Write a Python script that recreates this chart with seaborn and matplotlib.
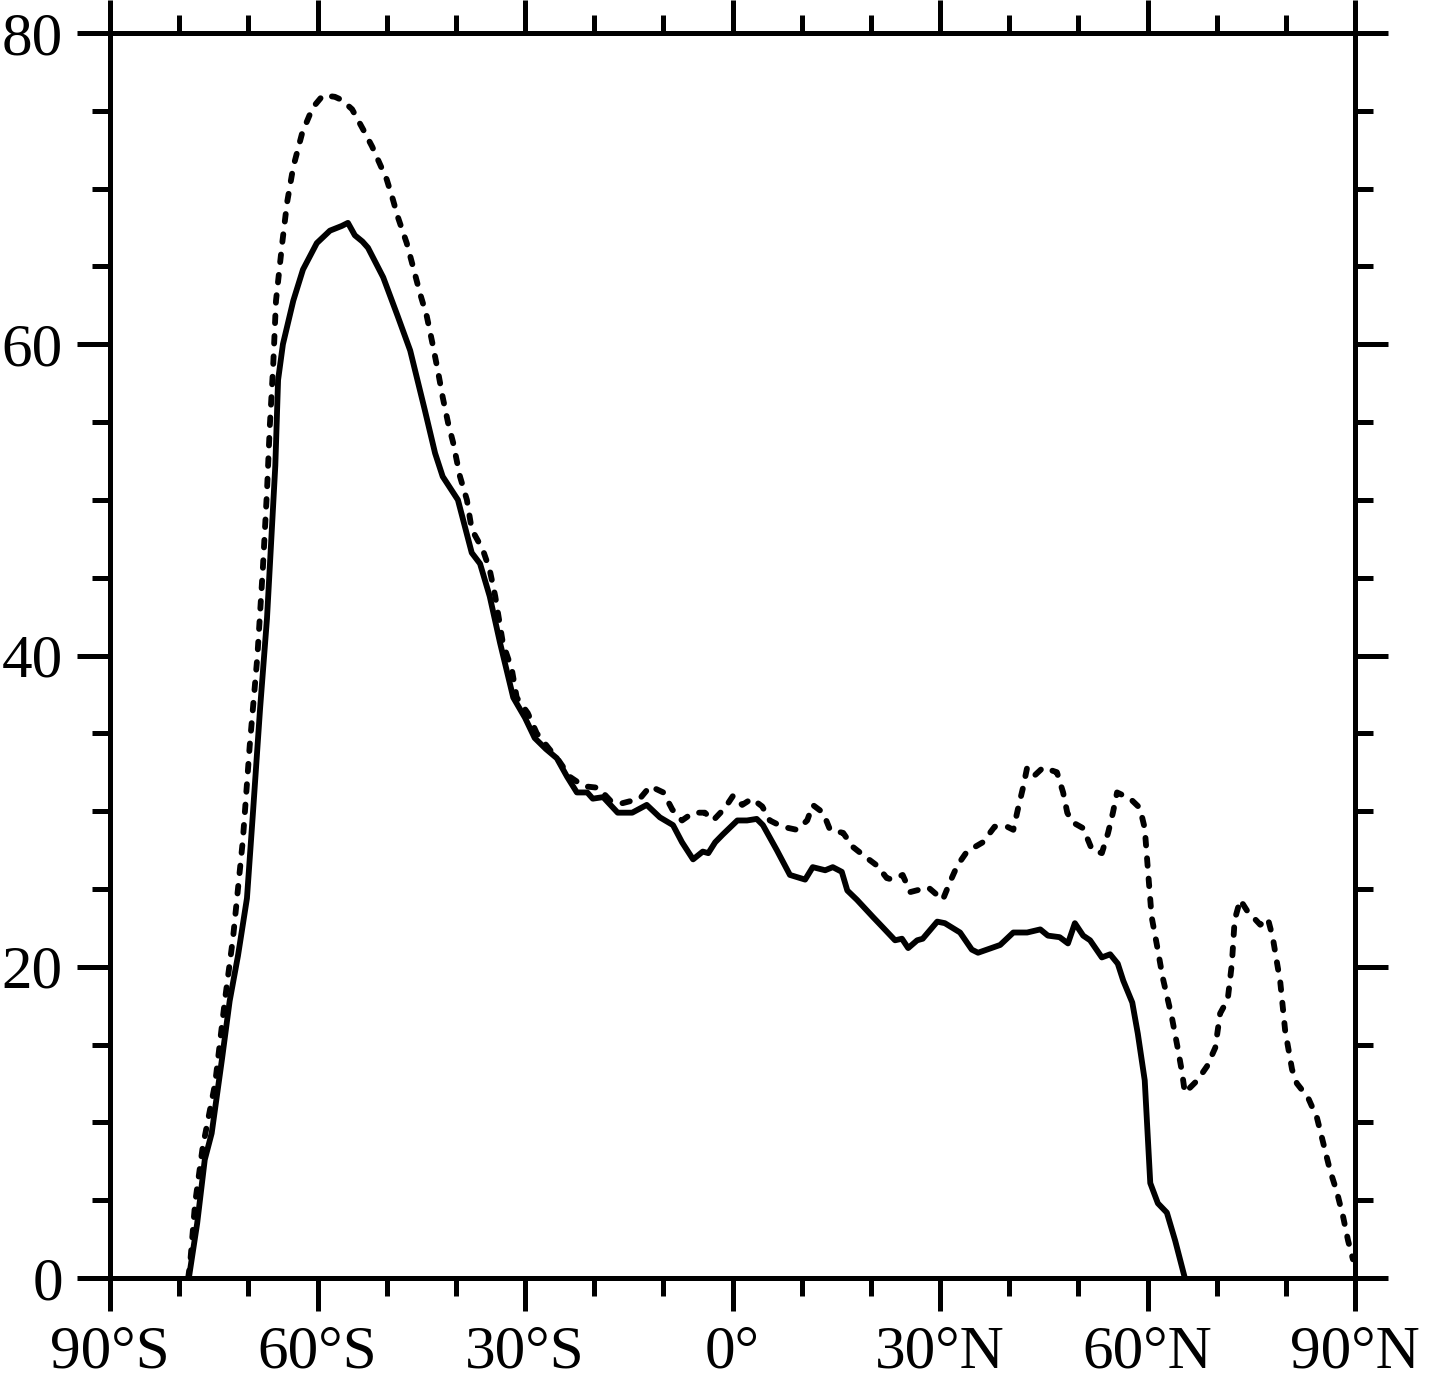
import numpy as np
import pandas as pd
import matplotlib
matplotlib.use("Agg")
import matplotlib.pyplot as plt
from matplotlib.ticker import MultipleLocator
import seaborn as sns

# solid curve
lat_solid = [-78.6, -77.4, -76.3, -75.3, -73.8, -72.7, -71.5, -70.2, -69.3, -68.3,
             -67.3, -66.1, -65.7, -65.0, -63.5, -62.1, -60.1, -58.2, -56.5, -55.6,
             -54.6, -53.5, -52.7, -50.5, -48.4, -46.6, -44.5, -43.0, -41.9, -39.7,
             -37.7, -36.5, -35.1, -33.6, -31.7, -30.0, -28.6, -27.0, -25.4, -23.9,
             -22.5, -21.0, -20.2, -18.7, -16.6, -14.5, -12.4, -10.5, -8.6, -7.3,
             -5.7, -4.3, -3.5, -2.5, -1.4, 0.7, 2.1, 3.5, 4.4, 6.4,
             8.3, 10.5, 11.6, 13.4, 14.5, 15.8, 16.6, 18.0, 20.3, 21.8,
             23.5, 24.5, 25.4, 26.7, 27.5, 29.6, 30.7, 32.9, 34.6, 35.5,
             38.7, 40.6, 42.6, 44.5, 45.6, 47.3, 48.5, 49.5, 50.7, 51.7,
             53.4, 54.6, 55.7, 56.5, 57.8, 58.6, 59.6, 60.4, 61.5, 62.8,
             64.0, 65.4]
val_solid = [0.0, 3.5, 7.6, 9.3, 14.1, 17.8, 20.7, 24.4, 30.1, 36.6,
             42.4, 52.2, 57.7, 60.0, 62.8, 64.8, 66.5, 67.3, 67.6, 67.8,
             67.0, 66.6, 66.2, 64.3, 61.8, 59.6, 55.8, 53.0, 51.5, 50.0,
             46.6, 45.9, 43.8, 40.8, 37.3, 36.0, 34.7, 34.0, 33.4, 32.2,
             31.2, 31.2, 30.8, 30.9, 29.9, 29.9, 30.4, 29.6, 29.1, 28.0,
             26.9, 27.4, 27.3, 28.0, 28.5, 29.4, 29.4, 29.5, 29.1, 27.5,
             25.9, 25.6, 26.4, 26.2, 26.4, 26.1, 24.9, 24.3, 23.2, 22.5,
             21.7, 21.8, 21.2, 21.7, 21.8, 22.9, 22.8, 22.2, 21.1, 20.9,
             21.4, 22.2, 22.2, 22.4, 22.0, 21.9, 21.5, 22.8, 22.0, 21.7,
             20.6, 20.8, 20.2, 19.1, 17.7, 15.7, 12.7, 6.1, 4.8, 4.2,
             2.4, 0.0]

# dashed curve
lat_dash = [-78.7, -78.4, -77.7, -76.6, -74.8, -73.4, -72.2, -70.8, -69.8, -68.7,
            -67.9, -67.3, -66.9, -66.4, -66.0, -65.1, -64.4, -63.5, -62.2, -60.7,
            -59.2, -57.5, -56.5, -55.0, -53.4, -52.1, -51.0, -50.0, -49.1, -48.4,
            -47.1, -46.2, -45.2, -44.2, -43.4, -42.6, -41.9, -41.1, -40.4, -39.4,
            -38.4, -37.7, -36.1, -35.1, -34.3, -33.2, -31.9, -31.2, -29.6, -28.3,
            -26.5, -25.2, -23.5, -21.5, -19.4, -17.5, -16.0, -13.4, -11.9, -10.0,
            -8.7, -7.3, -5.7, -4.0, -2.8, -1.1, 0.1, 1.4, 2.8, 4.3,
            5.4, 7.2, 9.3, 10.8, 11.6, 13.1, 14.1, 16.0, 17.4, 19.4,
            20.9, 22.3, 23.1, 24.6, 25.7, 28.3, 30.4, 31.4, 32.5, 33.9,
            36.2, 37.9, 39.7, 40.6, 41.3, 42.0, 42.6, 43.7, 44.9, 46.9,
            47.8, 48.4, 49.1, 50.7, 52.0, 53.4, 54.3, 55.0, 55.6, 57.5,
            58.9, 59.6, 60.1, 60.6, 61.4, 62.2, 63.5, 64.4, 65.0, 65.4,
            67.2, 68.6, 69.8, 70.5, 71.6, 72.2, 72.6, 73.4, 74.4, 76.3,
            77.4, 78.1, 79.2, 79.9, 80.9, 81.6, 83.2, 84.5, 85.4, 86.4,
            87.4, 88.3, 89.0, 89.7]
val_dash = [0.0, 1.0, 4.8, 8.4, 12.5, 17.8, 21.9, 28.1, 34.2, 39.9,
            45.6, 50.6, 54.7, 58.7, 62.8, 66.5, 69.1, 71.4, 73.6, 75.2,
            76.0, 75.9, 75.7, 75.1, 73.8, 72.7, 71.6, 70.6, 69.3, 68.2,
            66.5, 65.0, 63.3, 61.8, 60.1, 58.3, 56.6, 54.9, 53.7, 51.5,
            50.0, 48.1, 46.8, 45.5, 43.8, 40.8, 39.1, 37.3, 36.3, 35.0,
            34.0, 33.3, 32.2, 31.6, 31.5, 30.6, 30.5, 30.8, 31.6, 31.2,
            30.1, 29.4, 29.9, 29.9, 29.4, 30.2, 31.0, 30.4, 30.8, 30.3,
            29.4, 29.0, 28.8, 29.4, 30.4, 29.9, 28.8, 28.6, 27.7, 27.0,
            26.5, 25.7, 25.6, 25.9, 24.8, 25.1, 24.3, 25.4, 26.5, 27.4,
            28.0, 29.0, 29.0, 28.8, 30.2, 31.5, 32.8, 32.3, 32.8, 32.5,
            31.2, 29.9, 29.3, 28.9, 27.5, 27.3, 28.6, 29.9, 31.2, 30.8,
            30.2, 28.9, 26.0, 23.2, 21.3, 19.3, 16.8, 14.7, 13.2, 11.9,
            12.7, 13.6, 14.8, 17.0, 17.9, 20.2, 23.0, 24.3, 23.6, 22.7,
            23.1, 21.9, 19.0, 15.9, 13.4, 12.5, 11.6, 10.3, 8.7, 6.9,
            5.5, 3.9, 2.4, 1.2]

xtick_pos = [-90, -60, -30, 0, 30, 60, 90]
xtick_labels = ["90°S", "60°S", "30°S", "0°", "30°N", "60°N", "90°N"]
ytick_pos = [0, 20, 40, 60, 80]

sns.set_style("ticks")
plt.rcParams['font.family'] = ['Liberation Serif', 'DejaVu Serif']

df_solid = pd.DataFrame({'lat': lat_solid, 'val': val_solid})
df_dash = pd.DataFrame({'lat': lat_dash, 'val': val_dash})

fig = plt.figure(figsize=(14.41, 13.94), dpi=100)
ax = fig.add_axes([110 / 1441, 1 - 1278 / 1394, 1245 / 1441, 1245 / 1394])

sns.lineplot(data=df_dash, x='lat', y='val', ax=ax, color='black', lw=4.2,
             linestyle=(0, (1.3, 2.2)), dash_capstyle='round', estimator=None)
sns.lineplot(data=df_solid, x='lat', y='val', ax=ax, color='black', lw=4.2,
             estimator=None)

ax.set_xlim(-90, 90)
ax.set_ylim(0, 80)
ax.set_xticks(xtick_pos)
ax.set_xticklabels(xtick_labels)
ax.set_yticks(ytick_pos)
ax.xaxis.set_minor_locator(MultipleLocator(10))
ax.yaxis.set_minor_locator(MultipleLocator(5))
ax.set_xlabel('')
ax.set_ylabel('')

for s in ax.spines.values():
    s.set_visible(True)
    s.set_linewidth(3.6)
    s.set_color('black')

ax.tick_params(which='both', direction='out', top=True, right=True,
               labeltop=False, labelright=False, width=3.6, color='black',
               labelsize=44, labelcolor='black')
ax.tick_params(which='major', length=24)
ax.tick_params(which='minor', length=13)
ax.tick_params(axis='x', which='major', pad=10)
ax.tick_params(axis='y', which='major', pad=10)

fig.savefig('out.png', dpi=100)
